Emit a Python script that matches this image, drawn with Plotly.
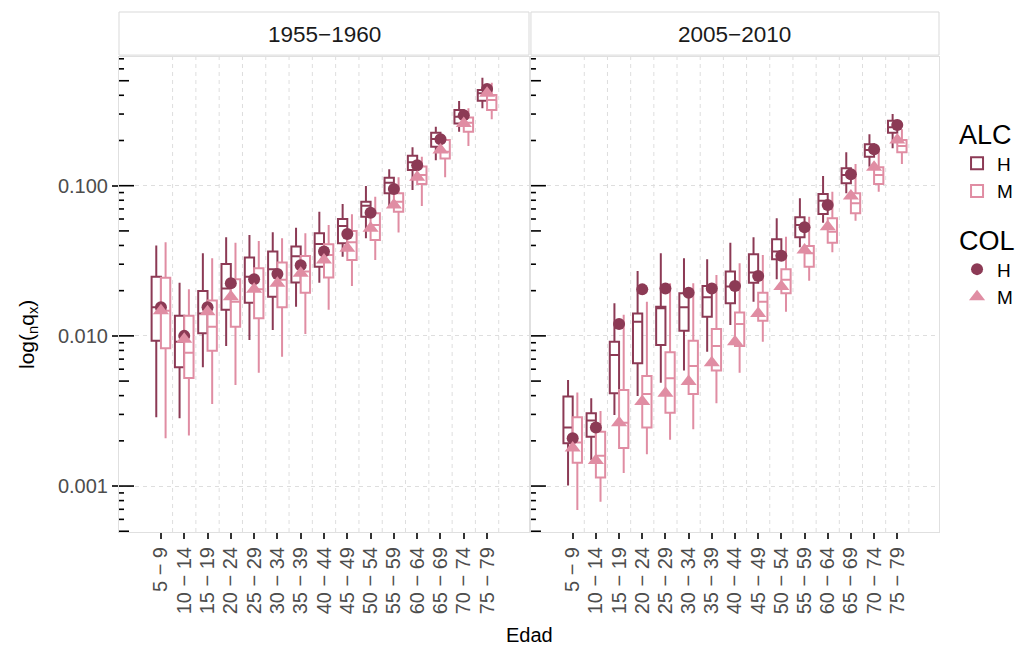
import math
import plotly.graph_objects as go

# ---------------- data ----------------
periods = ["1955\u22121960", "2005\u22122010"]
edad = ["5 \u2212 9", "10 \u2212 14", "15 \u2212 19", "20 \u2212 24", "25 \u2212 29",
        "30 \u2212 34", "35 \u2212 39", "40 \u2212 44", "45 \u2212 49", "50 \u2212 54",
        "55 \u2212 59", "60 \u2212 64", "65 \u2212 69", "70 \u2212 74", "75 \u2212 79"]
y_tickvals = [0.001, 0.01, 0.1]
y_ticktext = ["0.001", "0.010", "0.100"]

# ALC boxes, 1955-1960, H
h55_hi = [0.0399, 0.0226, 0.0355, 0.0453, 0.0470, 0.0489, 0.0525, 0.0671, 0.0755, 0.0995, 0.1286, 0.180, 0.247, 0.366, 0.524]
h55_q3 = [0.0248, 0.0136, 0.0199, 0.0301, 0.0333, 0.0364, 0.0393, 0.0482, 0.0600, 0.0782, 0.113, 0.158, 0.225, 0.319, 0.434]
h55_med = [0.0155, 0.00915, 0.0141, 0.0207, 0.0248, 0.0278, 0.0339, 0.0409, 0.0539, 0.0736, 0.1047, 0.143, 0.205, 0.288, 0.412]
h55_q1 = [0.00929, 0.00618, 0.0104, 0.0149, 0.0166, 0.0182, 0.0227, 0.0289, 0.0413, 0.0622, 0.089, 0.127, 0.182, 0.260, 0.368]
h55_lo = [0.00287, 0.00283, 0.00618, 0.00857, 0.0094, 0.01095, 0.01565, 0.0226, 0.0337, 0.0447, 0.0725, 0.0936, 0.148, 0.229, 0.328]
# ALC boxes, 1955-1960, M
m55_hi = [0.042, 0.0204, 0.0329, 0.0417, 0.0428, 0.0447, 0.0482, 0.0547, 0.0645, 0.0845, 0.1137, 0.156, 0.212, 0.328, 0.485]
m55_q3 = [0.0244, 0.0136, 0.0172, 0.0238, 0.0282, 0.0308, 0.0340, 0.0407, 0.0499, 0.0655, 0.089, 0.134, 0.2015, 0.285, 0.402]
m55_med = [0.0147, 0.00773, 0.0115, 0.0169, 0.0204, 0.0236, 0.0268, 0.0346, 0.042, 0.0547, 0.0782, 0.118, 0.168, 0.263, 0.372]
m55_q1 = [0.00827, 0.00524, 0.00797, 0.0115, 0.0131, 0.0155, 0.0194, 0.0245, 0.032, 0.0435, 0.0671, 0.1026, 0.152, 0.229, 0.319]
m55_lo = [0.00208, 0.00217, 0.00352, 0.00471, 0.00569, 0.00727, 0.0103, 0.0149, 0.0215, 0.032, 0.0487, 0.0732, 0.114, 0.184, 0.277]
# ALC boxes, 2005-2010, H
h05_hi = [0.00509, 0.00384, 0.0165, 0.0270, 0.0355, 0.0329, 0.0324, 0.0417, 0.0453, 0.0607, 0.0824, 0.116, 0.167, 0.220, 0.300]
h05_q3 = [0.00394, 0.00305, 0.00915, 0.0141, 0.01565, 0.0192, 0.0215, 0.0268, 0.0349, 0.0440, 0.0616, 0.0881, 0.1305, 0.1886, 0.271]
h05_med = [0.00245, 0.00273, 0.00746, 0.0124, 0.0153, 0.0155, 0.0181, 0.0213, 0.0264, 0.0364, 0.0547, 0.0795, 0.1178, 0.1728, 0.2447]
h05_q1 = [0.00193, 0.00213, 0.00415, 0.00657, 0.0087, 0.0108, 0.0134, 0.0165, 0.0226, 0.0324, 0.0453, 0.0648, 0.1037, 0.156, 0.2254]
h05_lo = [0.00101, 0.00149, 0.00297, 0.00398, 0.00488, 0.00587, 0.00785, 0.0118, 0.0169, 0.0238, 0.0389, 0.0567, 0.089, 0.1338, 0.1774]
# ALC boxes, 2005-2010, M
m05_hi = [0.00419, 0.00316, 0.0138, 0.0169, 0.0224, 0.0224, 0.0254, 0.0304, 0.0346, 0.0458, 0.0622, 0.0912, 0.1395, 0.1774, 0.2373]
m05_q3 = [0.00287, 0.0023, 0.00436, 0.00541, 0.00778, 0.00929, 0.0111, 0.0143, 0.0194, 0.0278, 0.0397, 0.0607, 0.089, 0.1326, 0.2015]
m05_med = [0.00195, 0.00159, 0.00264, 0.0041, 0.00522, 0.0063, 0.00857, 0.012, 0.0169, 0.0236, 0.0355, 0.0494, 0.0763, 0.1178, 0.1838]
m05_q1 = [0.00143, 0.00114, 0.00179, 0.00245, 0.00308, 0.0041, 0.00587, 0.00857, 0.0126, 0.0192, 0.0289, 0.0417, 0.0655, 0.1026, 0.1669]
m05_lo = [0.000693, 0.000787, 0.00122, 0.00163, 0.00203, 0.00239, 0.00356, 0.00569, 0.00915, 0.0145, 0.0233, 0.036, 0.0585, 0.0912, 0.1395]
# COL points
col_h55 = [0.0155, 0.0100, 0.0155, 0.0224, 0.0238, 0.0258, 0.0295, 0.0364, 0.0477, 0.0661, 0.095, 0.137, 0.204, 0.294, 0.440]
col_m55 = [0.0147, 0.0095, 0.0145, 0.0182, 0.0204, 0.0224, 0.0261, 0.032, 0.0383, 0.052, 0.0744, 0.114, 0.173, 0.260, 0.412]
col_h05 = [0.00208, 0.00245, 0.0120, 0.0204, 0.0207, 0.0194, 0.0207, 0.0215, 0.0250, 0.0342, 0.0528, 0.0744, 0.1191, 0.1747, 0.2535]
col_m05 = [0.00179, 0.00148, 0.00264, 0.00365, 0.00415, 0.00496, 0.00663, 0.00915, 0.0141, 0.0213, 0.0373, 0.0533, 0.0854, 0.1326, 0.2015]

# ---------------- style ----------------
DARK = "#8C3A55"
LIGHT = "#E08DA3"
FONT = "Liberation Sans, Arial, Helvetica, sans-serif"
GRID = "#dedede"
BORDER = "#e0e0e0"
TICKC = "#333333"
LABC = "#4d4d4d"

x = list(range(len(edad)))
fig = go.Figure()

panels = [
    ("x", "y", (h55_lo, h55_q1, h55_med, h55_q3, h55_hi), (m55_lo, m55_q1, m55_med, m55_q3, m55_hi), col_h55, col_m55, True),
    ("x2", "y2", (h05_lo, h05_q1, h05_med, h05_q3, h05_hi), (m05_lo, m05_q1, m05_med, m05_q3, m05_hi), col_h05, col_m05, False),
]

for xa, ya, sh, sm, _, _, show in panels:
    for name, st, col in (("H", sh, DARK), ("M", sm, LIGHT)):
        lo, q1, med, q3, hi = st
        fig.add_trace(go.Box(
            x=x, lowerfence=lo, q1=q1, median=med, q3=q3, upperfence=hi,
            name=name, offsetgroup=name, legend="legend", legendgroup="alc" + name,
            showlegend=show, line=dict(color=col, width=2), fillcolor="rgba(255,255,255,1)",
            whiskerwidth=0, boxpoints=False, xaxis=xa, yaxis=ya, hoverinfo="skip"))

for xa, ya, _, _, ch, cm, show in panels:
    fig.add_trace(go.Scatter(x=x, y=ch, mode="markers", name="H", legend="legend2",
                             legendgroup="colH", showlegend=show,
                             marker=dict(symbol="circle", size=12, color=DARK),
                             xaxis=xa, yaxis=ya, hoverinfo="skip"))
    fig.add_trace(go.Scatter(x=x, y=cm, mode="markers", name="M", legend="legend2",
                             legendgroup="colM", showlegend=show,
                             marker=dict(symbol="triangle-up", size=14, color=LIGHT),
                             xaxis=xa, yaxis=ya, hoverinfo="skip"))

XR = [-1.8, 15.8]
YR = [-3.306, -0.143]

xcommon = dict(range=XR, tickmode="array", tickvals=x, ticktext=edad, tickangle=-90,
               ticks="outside", ticklen=6, tickwidth=1.5, tickcolor=TICKC,
               tickfont=dict(size=20, color=LABC, family=FONT), showgrid=False,
               zeroline=False, showline=True, mirror=True, linecolor=BORDER, linewidth=1)
ycommon = dict(type="log", range=YR, tickmode="array", tickvals=y_tickvals, ticktext=y_ticktext,
               showgrid=True, gridcolor=GRID, gridwidth=1, griddash="4px,4px",
               zeroline=False, showline=True, mirror=True, linecolor=BORDER, linewidth=1)

fig.update_layout(
    width=1016, height=647,
    margin=dict(l=119, r=77, t=57, b=115, autoexpand=False),
    paper_bgcolor="white", plot_bgcolor="white",
    font=dict(family=FONT, color="#1a1a1a"),
    boxmode="group", boxgap=0.2, boxgroupgap=0,
    xaxis=dict(domain=[0, 0.5], anchor="y", **xcommon),
    xaxis2=dict(domain=[0.5024, 1], anchor="y2", **xcommon),
    yaxis=dict(anchor="x", ticks="outside", ticklen=6, tickwidth=1.5, tickcolor=TICKC,
               tickfont=dict(size=20, color=LABC, family=FONT), **ycommon),
    yaxis2=dict(anchor="x2", matches="y", ticks="", showticklabels=False, **ycommon),
    legend=dict(title=dict(text="ALC", font=dict(size=27, color="black")),
                font=dict(size=19, color="black"), x=1.022, xanchor="left",
                y=0.89, yanchor="top", bgcolor="rgba(0,0,0,0)", tracegroupgap=0),
    legend2=dict(title=dict(text="COL", font=dict(size=27, color="black")),
                 font=dict(size=19, color="black"), x=1.022, xanchor="left",
                 y=0.667, yanchor="top", bgcolor="rgba(0,0,0,0)", tracegroupgap=0),
    showlegend=True,
)

shapes = []
annotations = []
PANEL_W = 409.0
for xa, ya, label in (("x", "y", periods[0]), ("x2", "y2", periods[1])):
    # vertical dashed grid between age groups
    for i in x:
        shapes.append(dict(type="line", xref=xa, yref=ya + " domain", x0=i + 0.5, x1=i + 0.5,
                           y0=0, y1=1, layer="below",
                           line=dict(color=GRID, width=1, dash="4px,4px")))
    # log ticks inside the panel
    for k in range(-4, 0):
        for d in range(1, 10):
            v = d * 10 ** k
            lv = math.log10(v)
            if lv < YR[0] or lv > YR[1]:
                continue
            L = 15 if d == 1 else (10 if d == 5 else 5)
            shapes.append(dict(type="line", xref=xa + " domain", yref=ya, x0=0, x1=L / PANEL_W,
                               y0=v, y1=v, line=dict(color="black", width=1.6)))
    # strip
    shapes.append(dict(type="rect", xref=xa + " domain", yref=ya + " domain",
                       x0=0, x1=1, y0=1.004, y1=1 + 45 / 475,
                       fillcolor="white", line=dict(color="#d9d9d9", width=1)))
    annotations.append(dict(text=label, xref=xa + " domain", yref=ya + " domain",
                            x=0.5, y=1 + 23 / 475, xanchor="center", yanchor="middle",
                            showarrow=False, font=dict(size=22.5, color="#1a1a1a", family=FONT)))

annotations.append(dict(text="Edad", xref="paper", yref="paper", x=0.5012, y=-103 / 475,
                        xanchor="center", yanchor="middle", showarrow=False,
                        font=dict(size=20, color="black", family=FONT)))
annotations.append(dict(text="log(<sub>n</sub>q<sub>x</sub>)", xref="paper", yref="paper",
                        x=-91 / 820, y=(532 - 335) / 475, xanchor="center", yanchor="middle",
                        textangle=-90, showarrow=False,
                        font=dict(size=21, color="black", family=FONT)))

fig.update_layout(shapes=shapes, annotations=annotations)
fig.write_html("out.html")
